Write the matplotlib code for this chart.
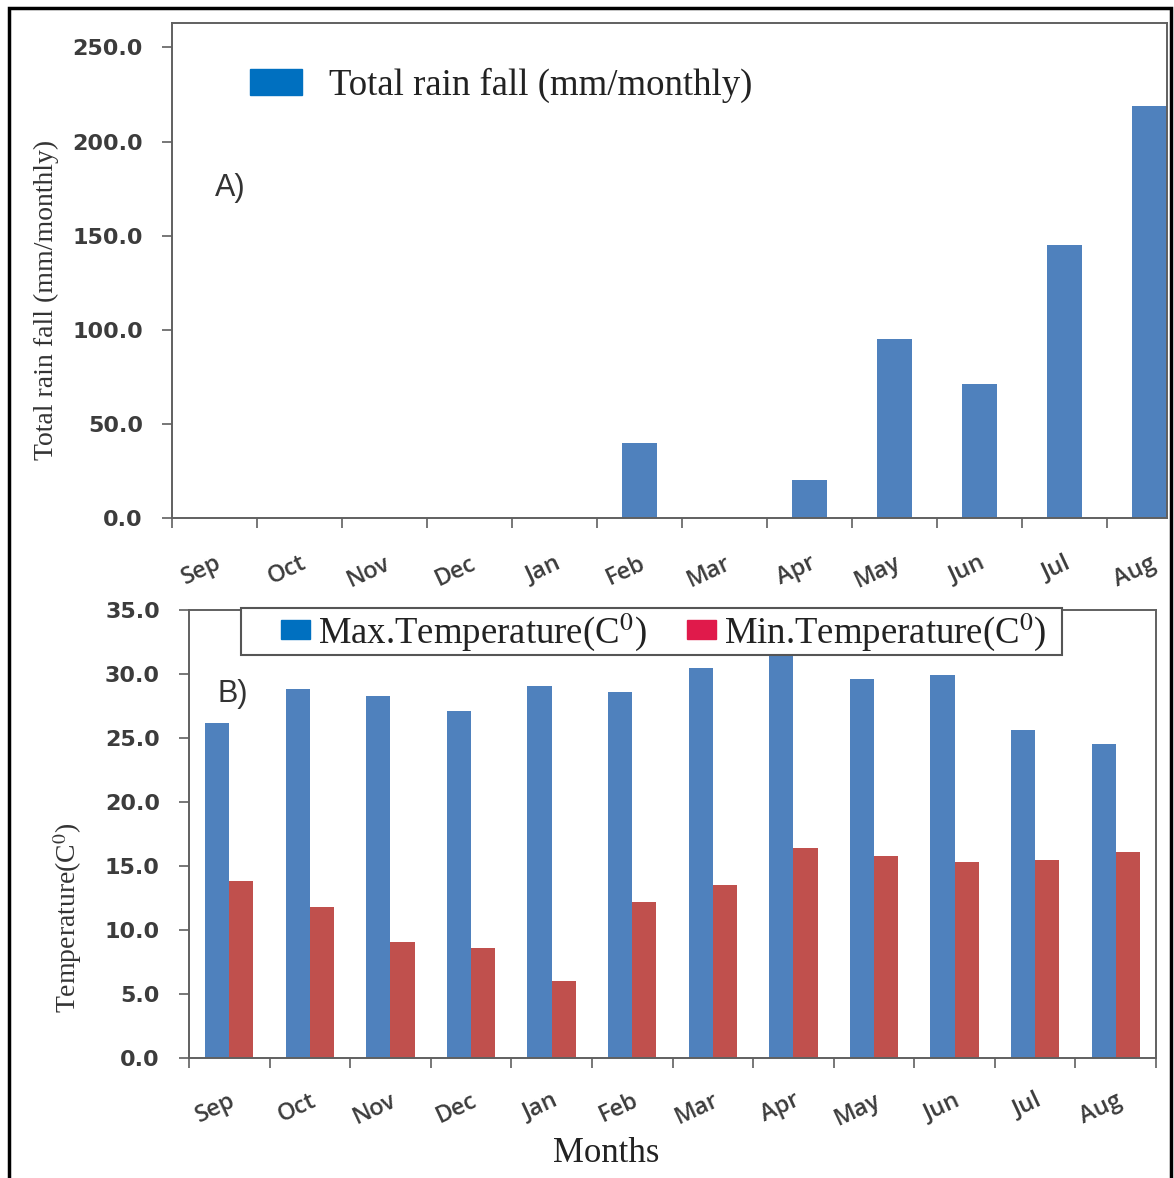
import matplotlib.pyplot as plt
import matplotlib.patches as mpatches
import numpy as np

plt.rcParams["mathtext.fontset"] = "stix"

# ---------------- data ----------------
months = ["Sep", "Oct", "Nov", "Dec", "Jan", "Feb",
          "Mar", "Apr", "May", "Jun", "Jul", "Aug"]
rainfall = [0, 0, 0, 0, 0, 40, 0, 20, 95, 71, 145, 219]
max_temp = [26.2, 28.8, 28.3, 27.1, 29.1, 28.6, 30.5, 31.6, 29.6, 29.9, 25.6, 24.5]
min_temp = [13.8, 11.8, 9.1, 8.6, 6.0, 12.2, 13.5, 16.4, 15.8, 15.3, 15.5, 16.1]
rain_ticks = [0, 50, 100, 150, 200, 250]
temp_ticks = [0, 5, 10, 15, 20, 25, 30, 35]

BAR_BLUE = "#4F81BD"
BAR_RED = "#C0504D"
LEG_BLUE = "#0070C0"
LEG_RED = "#E01A4B"
SPINE = "#606060"
TICKTXT = "#3c3c3c"
SERIF = ["Liberation Serif", "DejaVu Serif"]

W, H = 1174, 1178
fig = plt.figure(figsize=(W / 100, H / 100), dpi=100)


def px_axes(left, top, right, bottom):
    return fig.add_axes([left / W, 1 - bottom / H, (right - left) / W, (bottom - top) / H])


def style_axes(ax, n, label_pad):
    for s in ax.spines.values():
        s.set_color(SPINE)
        s.set_linewidth(1.4)
    x = np.arange(n)
    ax.set_xticks(x)
    ax.set_xticklabels(months, rotation=25, ha="right", va="top",
                       rotation_mode="anchor", family="Open Sans",
                       fontweight="semibold", fontsize=17, color=TICKTXT)
    ax.set_xticks(np.arange(n + 1) - 0.5, minor=True)
    ax.tick_params(axis="x", which="major", length=0, pad=label_pad)
    ax.tick_params(axis="x", which="minor", length=7, width=1.2, color=SPINE,
                   direction="out")
    ax.tick_params(axis="y", length=7, width=1.2, color=SPINE, pad=14,
                   labelsize=16, labelcolor=TICKTXT)
    for lbl in ax.get_yticklabels():
        lbl.set_fontweight("bold")


# =====================================================
# A) rainfall
# =====================================================
ax1 = px_axes(172, 23, 1167, 518)
x = np.arange(len(months))
ax1.bar(x, rainfall, width=0.41, color=BAR_BLUE, zorder=2)
ax1.set_ylim(0, 263)
ax1.set_yticks(rain_ticks)
ax1.set_yticklabels([f"{v:.1f}" for v in rain_ticks])
style_axes(ax1, len(months), 24)
ax1.set_xlim(-0.5, -0.5 + 995 / 85)

leg1 = fig.legend(handles=[mpatches.Patch(color=LEG_BLUE, label="Total rain fall (mm/monthly)")],
                  loc="center left", bbox_to_anchor=(250 / W, 1 - 85 / H),
                  frameon=False, borderpad=0, borderaxespad=0,
                  handlelength=1.4, handleheight=0.72, handletextpad=0.75,
                  prop={"family": SERIF, "size": 26.5})
for t in leg1.get_texts():
    t.set_color("#222222")

fig.text(215 / W, 1 - 188 / H, "A)", fontsize=22, family="Liberation Sans",
         color="#333333", ha="left", va="center")
fig.text(46 / W, 1 - 300 / H, "Total rain fall (mm/monthly)", rotation=90,
         fontsize=20, family=SERIF, color="#333333", ha="center", va="center")

# =====================================================
# B) temperature
# =====================================================
ax2 = px_axes(189, 610, 1156, 1058)
ax2.bar(x - 0.15, max_temp, width=0.3, color=BAR_BLUE, zorder=2)
ax2.bar(x + 0.15, min_temp, width=0.3, color=BAR_RED, zorder=2)
ax2.set_xlim(-0.5, len(months) - 0.5)
ax2.set_ylim(0, 35)
ax2.set_yticks(temp_ticks)
ax2.set_yticklabels([f"{v:.1f}" for v in temp_ticks])
style_axes(ax2, len(months), 22)

# legend frame drawn separately so it sits exactly where the original does
fig.patches.append(mpatches.Rectangle((241 / W, 1 - 655 / H), (1062 - 241) / W, 47 / H,
                                      transform=fig.transFigure, facecolor="white",
                                      edgecolor="#555555", linewidth=1.5, zorder=5))
leg2 = fig.legend(handles=[mpatches.Patch(color=LEG_BLUE, label="Max.Temperature(C$^{0}$)"),
                           mpatches.Patch(color=LEG_RED, label="Min.Temperature(C$^{0}$)")],
                  loc="center left", bbox_to_anchor=(281 / W, 1 - 632 / H), ncol=2,
                  frameon=False, borderpad=0, borderaxespad=0,
                  handlelength=0.78, handleheight=0.45, handletextpad=0.22,
                  columnspacing=1.1, prop={"family": SERIF, "size": 26.5})
leg2.set_zorder(6)
for t in leg2.get_texts():
    t.set_color("#222222")

fig.text(218 / W, 1 - 694 / H, "B)", fontsize=22, family="Liberation Sans",
         color="#333333", ha="left", va="center")
fig.text(68 / W, 1 - 918 / H, "Temperature(C$^{0}$)", rotation=90,
         fontsize=20, family=SERIF, color="#333333", ha="center", va="center")
fig.text(606 / W, 1 - 1153 / H, "Months", fontsize=25, family=SERIF,
         color="#222222", ha="center", va="center")

# outer black border (bottom edge runs off the picture)
fig.patches.append(mpatches.Rectangle((9 / W, -0.01), (1171 - 9) / W, 1 - 8 / H + 0.01,
                                      transform=fig.transFigure, fill=False,
                                      edgecolor="black", linewidth=2.5, zorder=10))

fig.savefig("out.png", dpi=100)
